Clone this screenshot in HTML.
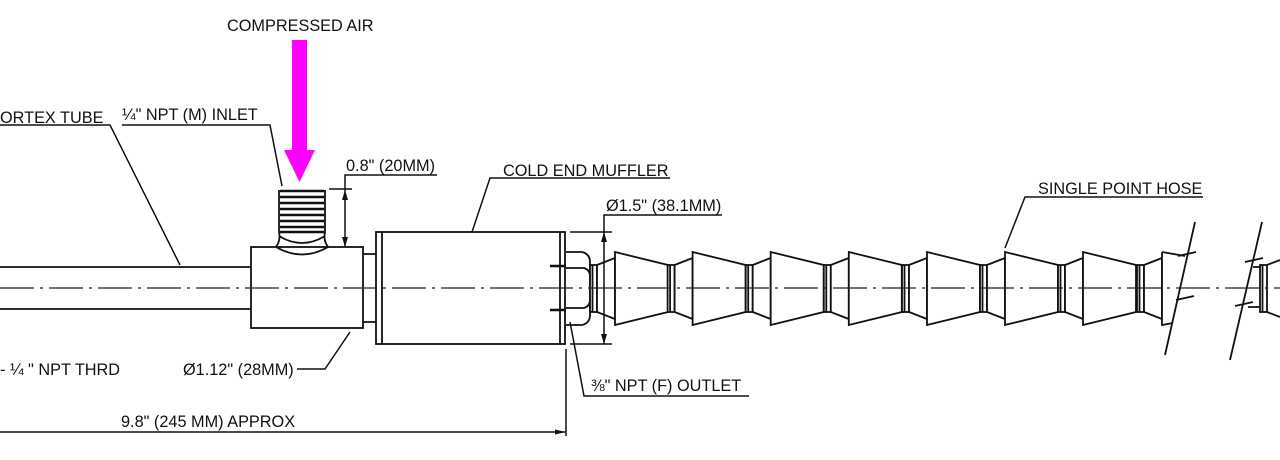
<!DOCTYPE html>
<html><head><meta charset="utf-8"><style>
html,body{margin:0;padding:0;background:#fff;}
svg{display:block;}
text{font-family:"Liberation Sans",Arial,sans-serif;font-size:16.3px;fill:#111;}
</style></head><body>
<svg width="1280" height="460" viewBox="0 0 1280 460" xmlns="http://www.w3.org/2000/svg">
<defs>
<g id="seg" fill="#fff" stroke="#111" stroke-width="1.8">
  <rect x="0" y="265" width="7" height="47"/>
  <line x1="2.5" y1="265" x2="2.5" y2="312"/>
  <polygon points="7,265 25,258 25,319 7,312"/>
  <polygon points="25,252 78,265 78,312 25,325"/>
</g>
</defs>

<!-- compressed air -->
<text x="227" y="31">COMPRESSED AIR</text>
<rect x="292" y="40" width="15" height="112" fill="#f0f"/>
<polygon points="284,150 315,150 299.5,182" fill="#f0f"/>

<g fill="none" stroke="#111" stroke-width="1.8">
<line x1="0" y1="267" x2="251" y2="267"/>
<line x1="0" y1="309" x2="251" y2="309"/>
<rect x="251" y="247" width="112" height="81" fill="#fff"/>
<path d="M279,190 L279,232 Q281,240 276,247 M325,190 L325,232 Q323,240 328,247" />
<path d="M276,247 Q302,262 328,247 M279,236 Q302,250 325,236" />
<g stroke-width="2.6">
<line x1="280" y1="191" x2="324" y2="191"/><line x1="280" y1="197" x2="324" y2="197"/>
<line x1="280" y1="203" x2="324" y2="203"/><line x1="280" y1="209" x2="324" y2="209"/>
<line x1="280" y1="215" x2="324" y2="215"/><line x1="280" y1="221" x2="324" y2="221"/>
<line x1="280" y1="227" x2="324" y2="227"/><line x1="280" y1="232" x2="324" y2="232"/>
</g>
<path d="M363,254 H376 M363,322 H376"/>
<rect x="376" y="232" width="189" height="112" fill="#fff"/>
<line x1="382" y1="232" x2="382" y2="344"/>
<line x1="560" y1="232" x2="560" y2="344"/>
<path d="M566,252 H582 Q590,254 590,262 V315 Q590,323 582,325 H566" fill="#fff"/>
<path d="M566,268 H584 Q590,270 590,276 M566,308 H584 Q590,306 590,300"/>
<path d="M550,266 H566 M550,310 H566" stroke-width="2.4"/>
</g>

<use href="#seg" x="590"/>
<use href="#seg" x="667.6"/>
<use href="#seg" x="745.7"/>
<use href="#seg" x="823.8"/>
<use href="#seg" x="902"/>
<use href="#seg" x="980"/>
<use href="#seg" x="1058"/>
<g fill="#fff" stroke="#111" stroke-width="1.8">
  <rect x="1137" y="265" width="7" height="47"/>
  <line x1="1139.5" y1="265" x2="1139.5" y2="312"/>
  <polygon points="1144,265 1162,258 1162,319 1144,312"/>
  <path d="M1162,252 L1185,256 M1162,252 V325 L1173,323"/>
  <rect x="1260" y="265" width="7" height="47"/>
  <line x1="1262.5" y1="265" x2="1262.5" y2="312"/>
  <path d="M1267,265 L1280,260 M1267,312 L1280,317"/>
  <path d="M1253,267 L1260,267 M1248,307 L1260,307" fill="none"/>
</g>
<g stroke="#111" stroke-width="1.8" fill="none">
  <line x1="1195" y1="222" x2="1165" y2="355"/>
  <path d="M1178,256 L1196,252 M1176,300 L1194,296"/>
  <line x1="1262" y1="222" x2="1230" y2="360"/>
  <path d="M1245,262 L1263,258 M1235,306 L1253,302"/>
</g>

<!-- centerline on top -->
<line x1="0" y1="288" x2="1280" y2="288" stroke="#222" stroke-width="1.2" stroke-dasharray="34,6,3,6"/>

<g fill="none" stroke="#111" stroke-width="1.5">
<path d="M0,125 H110 L180,265"/>
<path d="M122,125 H270 L282,186"/>
<path d="M437,175 H345 V247"/>
<line x1="329" y1="189" x2="352" y2="189"/>
<path d="M670,178 H490 L472,232"/>
<path d="M722,215 H604 V344"/>
<path d="M570,232 H612 M570,344 H612"/>
<path d="M1203,197 H1025 L1005,248"/>
<path d="M297,369 H325 L350,332"/>
<path d="M749,396 H584 L570,322"/>
<line x1="566" y1="349" x2="566" y2="436"/>
<line x1="0" y1="432" x2="566" y2="432"/>
</g>
<g fill="#111">
<polygon points="345,190 342,200 348,200"/>
<polygon points="345,247 342,237 348,237"/>
<polygon points="604,232 601,242 607,242"/>
<polygon points="604,344 601,334 607,334"/>
<polygon points="566,432 555,429.5 555,434.5"/>
</g>

<text x="0" y="123">ORTEX TUBE</text>
<text x="122" y="120">¼" NPT (M) INLET</text>
<text x="346" y="171">0.8" (20MM)</text>
<text x="503" y="176">COLD END MUFFLER</text>
<text x="606" y="211">Ø1.5" (38.1MM)</text>
<text x="1038" y="194">SINGLE POINT HOSE</text>
<text x="183" y="375">Ø1.12" (28MM)</text>
<text x="0" y="375">-  ¼ " NPT THRD</text>
<text x="591" y="391">⅜" NPT (F) OUTLET</text>
<text x="121" y="427">9.8" (245 MM) APPROX</text>
</svg>
</body></html>
